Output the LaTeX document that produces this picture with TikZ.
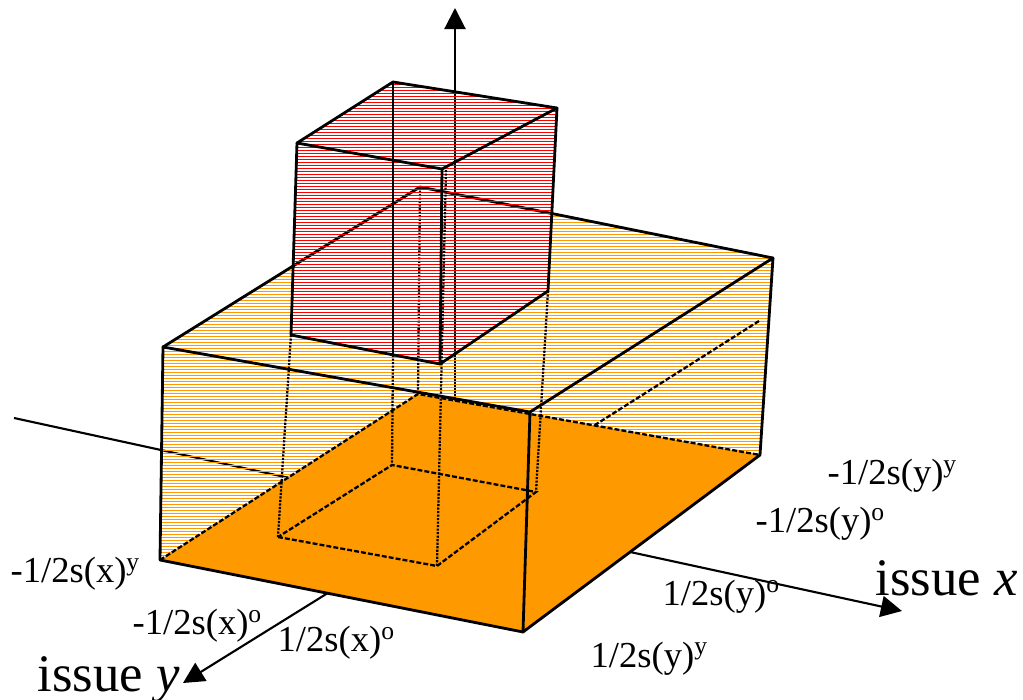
\documentclass[tikz,border=0pt]{standalone}
\usepackage{fontspec}
\setmainfont{Liberation Serif}
\usetikzlibrary{arrows.meta}
\definecolor{boxorange}{RGB}{255,153,0}
\definecolor{boxred}{RGB}{255,0,0}

\begin{document}
\begin{tikzpicture}[x=0.01cm, y=-0.01cm,
  edge/.style={line width=0.8pt, line join=round, line cap=round},
  hid/.style={line width=0.65pt, dash pattern=on 1.4pt off 0.6pt},
  dots/.style={line width=0.65pt, dash pattern=on 0.6pt off 0.4pt},
  ax/.style={line width=0.6pt},
  tip/.style={-{Triangle[length=6pt,width=6pt]}},
  hatch/.style={line width=0.45pt},
  lab/.style={font=\fontsize{10.4}{12}\selectfont, anchor=base west, inner sep=0pt},
  big/.style={font=\fontsize{15}{18}\selectfont, anchor=base west, inner sep=0pt}]
  \useasboundingbox (0,0) rectangle (1023,700);

  % orange block
  \coordinate (A) at (163,347);
  \coordinate (B) at (530,412);
  \coordinate (C) at (773,258);
  \coordinate (D) at (420,187);
  \coordinate (E) at (160,560);
  \coordinate (F) at (523,632);
  \coordinate (G) at (760,455);
  \coordinate (H) at (418,394);
  % red block
  \coordinate (flt) at (297,143);
  \coordinate (blt) at (393,82);
  \coordinate (brt) at (557,108);
  \coordinate (frt) at (442,169);
  \coordinate (flb) at (291,335);
  \coordinate (frb) at (440,364);
  \coordinate (brb) at (548,291);
  \coordinate (blb) at (393,355);
  % shadow of red block on the floor
  \coordinate (s1) at (278,537);
  \coordinate (s2) at (437,566);
  \coordinate (s3) at (536,492);
  \coordinate (s4) at (392,465);
  % axes
  \coordinate (O) at (455,514);
  \coordinate (xneg) at (14,418);
  \coordinate (xend) at (902,611);
  \coordinate (yend) at (183,683);
  \coordinate (zend) at (455,8);
  \coordinate (r1) at (759,321);
  \coordinate (r2) at (595,425);

  \draw[ax] (O) -- (xneg);
  \draw[ax,tip] (O) -- (xend);
  \draw[ax,tip] (O) -- (yend);
  \draw[ax,tip] (O) -- (zend);

  % hatched orange block
  \begin{scope}
    \clip (E) -- (A) -- (D) -- (C) -- (G) -- (F) -- cycle;
    \foreach \yy in {180.5,183.5,...,639.5}
      \draw[hatch,boxorange] (150,\yy) -- (780,\yy);
  \end{scope}
  \draw[hid] (r1) -- (r2);
  \draw[edge] (A) -- (D) -- (C);
  \draw[dots] (D) -- (H);

  % hatched red block
  \begin{scope}
    \clip (flt) -- (blt) -- (brt) -- (brb) -- (frb) -- (flb) -- cycle;
    \foreach \yy in {78.5,81.5,...,369.5}
      \draw[hatch,boxred] (280,\yy) -- (570,\yy);
  \end{scope}

  % floor
  \fill[boxorange] (E) -- (F) -- (G) -- (H) -- cycle;
  \draw[hid] (E) -- (H) -- (G);
  \draw[hid] (s1) -- (s2) -- (s3) -- (s4) -- cycle;
  \draw[dots] (flb) -- (s1);
  \draw[dots] (blb) -- (s4);
  \draw[dots] (446,170) -- (s2);
  \draw[dots] (brb) -- (s3);

  % visible edges
  \draw[edge] (A) -- (B) -- (C) -- (G) -- (F) -- (E) -- cycle;
  \draw[edge] (B) -- (F);
  \draw[edge] (flt) -- (blt) -- (brt) -- (frt) -- cycle;
  \draw[edge] (flt) -- (flb) -- (frb) -- (brb) -- (brt);
  \draw[edge] (frt) -- (frb);
  \draw[edge] (blt) -- (blb);

  % labels
  \node[lab] (ymy) at (827,485) {-1/2s(y)\textsuperscript{y}};
  \node[lab] (ymo) at (755,533) {-1/2s(y)\textsuperscript{o}};
  \node[lab] (ypo) at (662,605) {1/2s(y)\textsuperscript{o}};
  \node[lab] (ypy) at (590,667) {1/2s(y)\textsuperscript{y}};
  \node[lab] (xmy) at (10,583) {-1/2s(x)\textsuperscript{y}};
  \node[lab] (xmo) at (132,635) {-1/2s(x)\textsuperscript{o}};
  \node[lab] (xpo) at (277,652) {1/2s(x)\textsuperscript{o}};
  \node[big] (issx) at (875,595) {issue \textit{x}};
  \node[big] (issy) at (37,692) {issue \textit{y}};
\end{tikzpicture}
\end{document}
